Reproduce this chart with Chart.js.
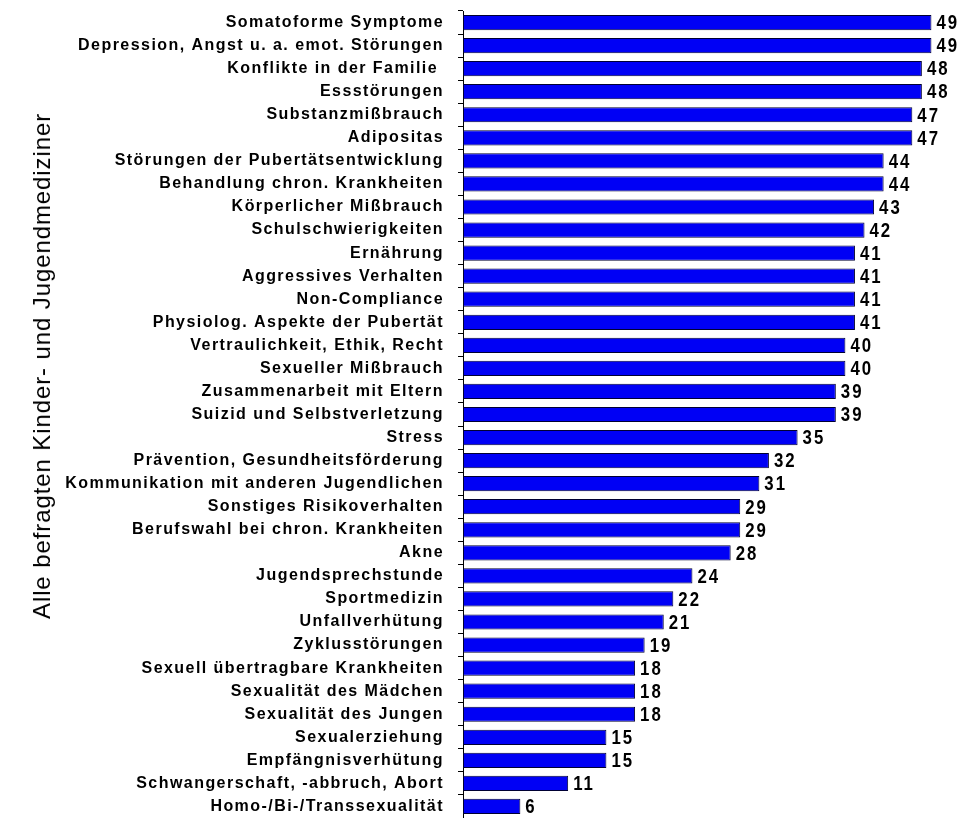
<!DOCTYPE html>
<html lang="de">
<head>
<meta charset="utf-8">
<script src="https://cdn.jsdelivr.net/npm/chart.js@4"></script>
<style>
  html, body { margin: 0; padding: 0; background: #fff; overflow: hidden; }
  #wrap { position: relative; width: 972px; height: 818px; }
  #achse-titel {
    position: absolute; left: 42px; top: 366px;
    transform: translate(-50%, -50%) rotate(-90deg);
    white-space: nowrap; letter-spacing: 0.9px;
    font: 24px "Liberation Sans", Arial, sans-serif; color: #000;
  }
</style>
</head>
<body>
<div id="wrap">
  <canvas id="grafik" width="972" height="818"></canvas>
  <div id="achse-titel">Alle befragten Kinder- und Jugendmediziner</div>
</div>
<script>
const themen = [
    "Somatoforme Symptome", "Depression, Angst u. a. emot. Störungen", "Konflikte in der Familie ",
    "Essstörungen", "Substanzmißbrauch", "Adipositas", "Störungen der Pubertätsentwicklung",
    "Behandlung chron. Krankheiten", "Körperlicher Mißbrauch", "Schulschwierigkeiten",
    "Ernährung", "Aggressives Verhalten", "Non-Compliance", "Physiolog. Aspekte der Pubertät",
    "Vertraulichkeit, Ethik, Recht", "Sexueller Mißbrauch", "Zusammenarbeit mit Eltern",
    "Suizid und Selbstverletzung", "Stress", "Prävention, Gesundheitsförderung",
    "Kommunikation mit anderen Jugendlichen", "Sonstiges Risikoverhalten",
    "Berufswahl bei chron. Krankheiten", "Akne", "Jugendsprechstunde", "Sportmedizin",
    "Unfallverhütung", "Zyklusstörungen", "Sexuell übertragbare Krankheiten",
    "Sexualität des Mädchen", "Sexualität des Jungen", "Sexualerziehung",
    "Empfängnisverhütung", "Schwangerschaft, -abbruch, Abort", "Homo-/Bi-/Transsexualität",
];

const anteile = [
    49, 49, 48, 48, 47, 47, 44, 44, 43, 42, 41, 41, 41, 41, 40, 40, 39, 39,
    35, 32, 31, 29, 29, 28, 24, 22, 21, 19, 18, 18, 18, 15, 15, 11, 6,
];

// Zeichenabstand fuer die Kategorien-Beschriftung
const abstandSetzen = {
    id: "abstand",
    beforeLayout: (chart) => { chart.ctx.letterSpacing = "1.45px"; },
    beforeDraw: (chart) => { chart.ctx.letterSpacing = "1.45px"; },
};

// Zahlenwerte rechts neben die Balken schreiben (schmal gestaucht)
const werteAnzeigen = {
    id: "werte",
    afterDatasetsDraw: (chart) => {
        const ctx = chart.ctx;
        ctx.fillStyle = "#000";
        chart.getDatasetMeta(0).data.forEach((balken, i) => {
            ctx.save();
            ctx.letterSpacing = "2.5px";
            ctx.font = "bold 21px 'Liberation Sans', Arial, sans-serif";
            ctx.textAlign = "left";
            ctx.textBaseline = "middle";
            ctx.translate(balken.x + 5, balken.y + 1);
            ctx.scale(0.8, 1);
            ctx.fillText(String(anteile[i]), 0, 0);
            ctx.restore();
        });
    },
};

new Chart(document.getElementById("grafik").getContext("2d"), {
    type: "bar",
    data: {
        labels: themen,
        datasets: [{
            data: anteile,
            backgroundColor: "#0000f5",
            borderColor: "#000033",
            borderWidth: 1,
            borderSkipped: false,
            barPercentage: 0.66,
            categoryPercentage: 1,
        }],
    },
    options: {
        indexAxis: "y",
        responsive: false,
        animation: false,
        layout: { padding: { top: 11, right: 31, bottom: 0, left: 0 } },
        plugins: { legend: { display: false }, tooltip: { enabled: false } },
        scales: {
            x: { display: false, min: 0, max: 50 },
            y: {
                afterFit: (scale) => {
                    scale.width = 463;
                    scale.paddingTop = 0;
                    scale.paddingBottom = 0;
                },
                grid: { offset: true, drawOnChartArea: false, drawTicks: true, tickLength: 5, color: "#000" },
                border: { color: "#000", width: 1 },
                ticks: {
                    color: "#000",
                    padding: 14,
                    autoSkip: false,
                    font: { family: "'Liberation Sans', Arial, sans-serif", size: 16, weight: "bold" },
                },
            },
        },
    },
    plugins: [abstandSetzen, werteAnzeigen],
});
</script>
</body>
</html>
